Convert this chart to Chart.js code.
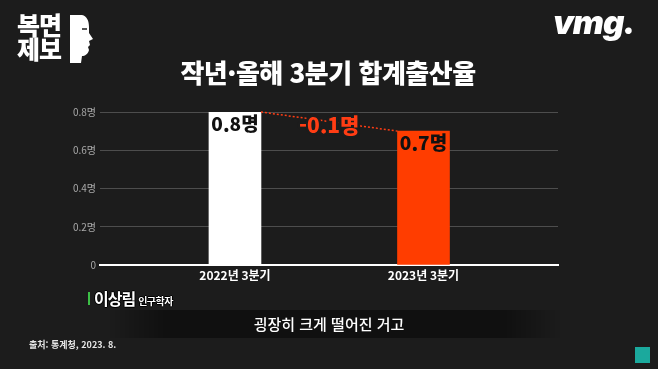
<!DOCTYPE html>
<html lang="ko">
<head>
<meta charset="utf-8">
<script src="https://cdn.jsdelivr.net/npm/chart.js@4/dist/chart.umd.min.js"></script>
<style>
  html, body { margin: 0; padding: 0; background: #1c1c1c; overflow: hidden; }
  #stage { position: relative; width: 658px; height: 369px; font-family: "Noto Sans CJK KR", sans-serif; }
  #stage canvas { position: absolute; left: 0; top: 0; }
  .title { position: absolute; left: 0; width: 656px; top: 56px; text-align: center; color: #fff; font-size: 26px; line-height: 32px; font-weight: 900; letter-spacing: -0.5px; }
  .logo { position: absolute; left: 17px; top: 12px; color: #fff; font-weight: 900; font-size: 25px; line-height: 24px; letter-spacing: -1px; }
  .face { position: absolute; left: 70px; top: 15px; }
  .vmg { position: absolute; left: 553px; top: 2px; color: #fff; font-family: Inter, "DejaVu Sans", sans-serif; font-weight: 900; font-style: italic; font-size: 33px; letter-spacing: -1px; }
  .band { position: absolute; left: 110px; top: 310px; width: 450px; height: 28px;
          background: linear-gradient(90deg, rgba(0,0,0,0) 0%, rgba(0,0,0,0.4) 12%, rgba(0,0,0,0.4) 88%, rgba(0,0,0,0) 100%); }
  .caption { position: absolute; left: 0; width: 658px; top: 314px; text-align: center; color: #fff; font-size: 15px; line-height: 20px; font-weight: 500; }
  .speaker-bar { position: absolute; left: 88px; top: 292px; width: 2px; height: 13px; background: #3cbf46; }
  .speaker { position: absolute; left: 94px; top: 286px; color: #fff; font-size: 16px; font-weight: 700; letter-spacing: -1px;
             text-shadow: 1px 0 0 #000, -1px 0 0 #000, 0 1px 0 #000, 0 -1px 0 #000; }
  .speaker small { font-size: 10px; letter-spacing: -0.5px; margin-left: 3px; }
  .source { position: absolute; left: 29px; top: 339px; color: #e6e6e6; font-size: 9px; font-weight: 700; line-height: 12px; }
  .badge { position: absolute; left: 635px; top: 347px; width: 15px; height: 16px; background: #1ba99d; }
</style>
</head>
<body>
<div id="stage">
  <canvas id="chart" width="658" height="369"></canvas>
  <div class="title">작년·올해 3분기 합계출산율</div>
  <div class="logo">복면<br>제보</div>
  <svg class="face" width="24" height="48" viewBox="0 0 24 48">
    <path d="M0,0 L12,0 C17,1 19,6 19,12 L19,18 L23,24 L19,26 L20,30 L18,32 L19,35 C18,39 15,41 12,41 L11,48 L0,48 Z" fill="#fff"/>
    <path d="M12,14 L17,14" stroke="#1c1c1c" stroke-width="1.5"/>
  </svg>
  <div class="vmg">vmg.</div>
  <div class="band"></div>
  <div class="speaker-bar"></div>
  <div class="speaker">이상림<small>인구학자</small></div>
  <div class="caption">굉장히 크게 떨어진 거고</div>
  <div class="source">출처: 통계청, 2023. 8.</div>
  <div class="badge"></div>
</div>

<script>
// Données du graphique
const categories = ["2022년 3분기", "2023년 3분기"];
const birthRates = [0.8, 0.7];
const barColors = ["#ffffff", "#ff3d00"];
const yTicks = [0, 0.2, 0.4, 0.6, 0.8];
const unit = "명";

const FONT = "'Noto Sans CJK KR', sans-serif";
const RED = "#ff3d14";

// Étiquettes dans les barres + écart entre les deux barres
const labelPlugin = {
  id: "labels",
  afterDatasetsDraw(chart) {
    const ctx = chart.ctx;
    const bars = chart.getDatasetMeta(0).data;
    ctx.save();

    // ligne pointillée entre le haut des deux barres
    const a = bars[0], b = bars[1];
    const x1 = a.x + a.width / 2, y1 = a.y;
    const x2 = b.x - b.width / 2, y2 = b.y;
    ctx.strokeStyle = RED;
    ctx.lineWidth = 1.5;
    ctx.setLineDash([2, 2]);
    ctx.beginPath();
    ctx.moveTo(x1, y1);
    ctx.lineTo(x2, y2);
    ctx.stroke();
    ctx.setLineDash([]);

    // valeurs
    ctx.textAlign = "center";
    ctx.textBaseline = "middle";
    ctx.font = "900 19px " + FONT;
    ctx.fillStyle = "#111";
    bars.forEach((bar, i) => {
      ctx.fillText(birthRates[i].toFixed(1) + unit, bar.x, bar.y + 12);
    });

    // écart
    const diff = birthRates[1] - birthRates[0];
    const txt = (diff < 0 ? "-" : "+") + Math.abs(diff).toFixed(1) + unit;
    const mx = (x1 + x2) / 2, my = (y1 + y2) / 2 + 3;
    ctx.font = "900 21px " + FONT;
    ctx.lineJoin = "round";
    ctx.lineWidth = 5;
    ctx.strokeStyle = "#1c1c1c";
    ctx.strokeText(txt, mx, my);
    ctx.fillStyle = RED;
    ctx.fillText(txt, mx, my);
    ctx.restore();
  },
};

new Chart(document.getElementById("chart"), {
  type: "bar",
  data: {
    datasets: [
      {
        data: birthRates.map((v, i) => ({ x: i, y: v })),
        backgroundColor: barColors,
        barThickness: 52,
        borderWidth: 0,
      },
    ],
  },
  options: {
    responsive: false,
    animation: false,
    layout: { padding: { left: 0, right: 100, top: 112, bottom: 84 } },
    plugins: {
      legend: { display: false },
      tooltip: { enabled: false },
    },
    scales: {
      x: {
        type: "linear",
        offset: false,
        min: -0.716,
        max: 1.7135,
        afterBuildTicks: (scale) => {
          scale.ticks = categories.map((c, i) => ({ value: i }));
        },
        afterFit: (scale) => { scale.height = 20; },
        grid: { display: false, drawTicks: false },
        border: { display: true, color: "#ffffff", width: 2 },
        ticks: {
          padding: 3,
          color: "#ffffff",
          font: { family: FONT, size: 12, weight: "bold" },
          callback: (v) => categories[v] || "",
        },
      },
      y: {
        min: 0,
        max: 0.8,
        afterBuildTicks: (scale) => {
          scale.ticks = yTicks.map((v) => ({ value: v }));
        },
        afterFit: (scale) => { scale.width = 100; },
        grid: {
          drawTicks: false,
          lineWidth: 1,
          color: (c) => (c.tick && c.tick.value === 0 ? "rgba(0,0,0,0)" : "#4d4d4d"),
        },
        border: { display: false },
        ticks: {
          padding: 4,
          color: "#a8a8a8",
          font: { family: FONT, size: 10 },
          callback: (v) => (v === 0 ? "0" : v.toFixed(1) + unit),
        },
      },
    },
  },
  plugins: [labelPlugin],
});
</script>
</body>
</html>
